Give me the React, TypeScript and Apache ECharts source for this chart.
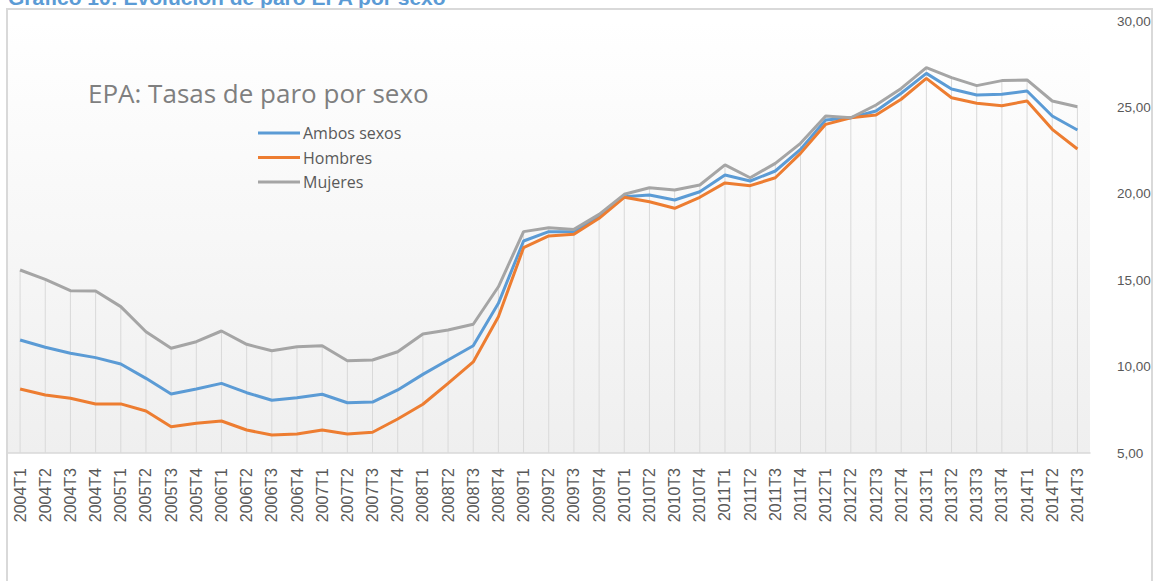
import React, { useEffect, useRef } from "react";
import * as echarts from "echarts";

const categories = [
  "2004T1", "2004T2", "2004T3", "2004T4",
  "2005T1", "2005T2", "2005T3", "2005T4",
  "2006T1", "2006T2", "2006T3", "2006T4",
  "2007T1", "2007T2", "2007T3", "2007T4",
  "2008T1", "2008T2", "2008T3", "2008T4",
  "2009T1", "2009T2", "2009T3", "2009T4",
  "2010T1", "2010T2", "2010T3", "2010T4",
  "2011T1", "2011T2", "2011T3", "2011T4",
  "2012T1", "2012T2", "2012T3", "2012T4",
  "2013T1", "2013T2", "2013T3", "2013T4",
  "2014T1", "2014T2", "2014T3",
];

const ambosSexos = [
  11.54, 11.12, 10.77, 10.52,
  10.15, 9.32, 8.41, 8.70,
  9.03, 8.49, 8.05, 8.20,
  8.40, 7.91, 7.95, 8.65,
  9.55, 10.38, 11.21, 13.66,
  17.27, 17.81, 17.81, 18.72,
  19.83, 19.93, 19.64, 20.12,
  21.09, 20.74, 21.32, 22.57,
  24.27, 24.40, 24.79, 25.82,
  26.97, 26.06, 25.72, 25.76,
  25.95, 24.50, 23.69,
];

const hombres = [
  8.70, 8.36, 8.17, 7.84,
  7.84, 7.43, 6.52, 6.72,
  6.85, 6.33, 6.04, 6.10,
  6.33, 6.10, 6.20, 6.97,
  7.82, 9.03, 10.27, 12.89,
  16.88, 17.56, 17.66, 18.58,
  19.80, 19.54, 19.16, 19.80,
  20.63, 20.47, 20.93, 22.34,
  24.02, 24.40, 24.56, 25.47,
  26.68, 25.56, 25.24, 25.10,
  25.37, 23.73, 22.59,
];

const mujeres = [
  15.59, 15.05, 14.39, 14.38,
  13.47, 12.02, 11.06, 11.44,
  12.06, 11.29, 10.92, 11.15,
  11.21, 10.34, 10.38, 10.86,
  11.89, 12.12, 12.45, 14.62,
  17.81, 18.04, 17.94, 18.81,
  19.97, 20.35, 20.22, 20.51,
  21.67, 20.93, 21.76, 22.92,
  24.50, 24.40, 25.14, 26.10,
  27.30, 26.72, 26.26, 26.55,
  26.59, 25.37, 25.04,
];

const seriesNames = ["Ambos sexos", "Hombres", "Mujeres"];
const seriesColors = ["#5B9BD5", "#ED7D31", "#A5A5A5"];

export default function App() {
  const ref = useRef<HTMLDivElement>(null);

  useEffect(() => {
    document.body.style.margin = "0";
    const chart = echarts.init(ref.current as HTMLDivElement, null, { renderer: "svg" });
    const dropData = categories.map((_, i) => [i, Math.max(ambosSexos[i], hombres[i], mujeres[i])]);
    const values = [ambosSexos, hombres, mujeres];

    chart.setOption({
      animation: false,
      backgroundColor: "#ffffff",
      title: {
        text: "EPA: Tasas de paro por sexo",
        left: 83,
        top: 75,
        textStyle: {
          fontFamily: "Open Sans",
          fontSize: 26,
          fontWeight: "normal",
          color: "#7f7f7f",
        },
      },
      legend: {
        orient: "vertical",
        left: 253,
        top: 120,
        icon: "rect",
        itemWidth: 42,
        itemHeight: 3,
        itemGap: 8.5,
        data: seriesNames,
        textStyle: { fontFamily: "Open Sans", fontSize: 16, color: "#595959", padding: [0, 0, 0, -2] },
      },
      grid: {
        left: 7.5,
        top: 21,
        width: 1082.5,
        height: 432,
        show: true,
        borderWidth: 0,
        backgroundColor: new echarts.graphic.LinearGradient(0, 0, 0, 1, [
          { offset: 0, color: "#ffffff" },
          { offset: 1, color: "#efefef" },
        ]),
      },
      xAxis: {
        type: "category",
        data: categories,
        boundaryGap: true,
        axisLine: { show: true, lineStyle: { color: "#d9d9d9", width: 1.5 } },
        axisTick: { show: false },
        splitLine: { show: false },
        axisLabel: {
          rotate: 90,
          interval: 0,
          margin: 15,
          color: "#595959",
          fontFamily: "Liberation Sans",
          fontSize: 16,
        },
      },
      yAxis: {
        type: "value",
        position: "right",
        min: 5,
        max: 30,
        interval: 5,
        axisLine: { show: false },
        axisTick: { show: false },
        splitLine: { show: false },
        axisLabel: {
          margin: 27,
          color: "#595959",
          fontFamily: "Liberation Sans",
          fontSize: 13.5,
          formatter: (v: number) => v.toFixed(2).replace(".", ","),
        },
      },
      graphic: [
        {
          type: "text",
          x: 8,
          y: 8,
          silent: true,
          style: {
            text: "Gráfico 10: Evolución de paro EPA por sexo",
            font: 'bold 21px "Liberation Sans"',
            fill: "#5B9BD5",
            verticalAlign: "bottom",
          },
        },
        {
          type: "rect",
          z: 100,
          silent: true,
          shape: { x: 7, y: 9, width: 1145, height: 640 },
          style: { fill: "none", stroke: "#d9d9d9", lineWidth: 2 },
        },
      ],
      series: [
        {
          type: "custom",
          name: "drop",
          silent: true,
          data: dropData,
          renderItem: (params: any, api: any) => {
            const top = api.coord([api.value(0), api.value(1)]);
            const bottom = api.coord([api.value(0), 5]);
            return {
              type: "line",
              shape: { x1: top[0], y1: top[1], x2: bottom[0], y2: bottom[1] },
              style: { stroke: "#d9d9d9", lineWidth: 1 },
            };
          },
        },
        ...seriesNames.map((name, k) => ({
          type: "line",
          name,
          data: values[k],
          symbol: "none",
          smooth: false,
          color: seriesColors[k],
          lineStyle: { color: seriesColors[k], width: 3 },
        })),
      ],
    });

    return () => chart.dispose();
  }, []);

  return <div ref={ref} style={{ width: 1157, height: 581 }} />;
}
